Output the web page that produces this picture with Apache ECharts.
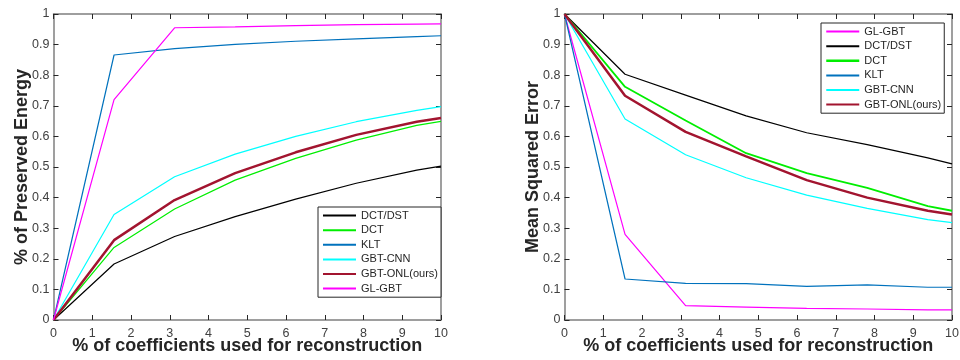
<!DOCTYPE html>
<html>
<head>
<meta charset="utf-8">
<script src="https://cdn.jsdelivr.net/npm/echarts@6/dist/echarts.min.js"></script>
<style>
  html, body { margin: 0; padding: 0; background: #fff; }
  #chart { width: 960px; height: 360px; }
</style>
</head>
<body>
<div id="chart"></div>
<script>
// Fraction of coefficients kept (%), shared by both panels
const coeffPct = [0, 1.5625, 3.125, 4.6875, 6.25, 7.8125, 9.375, 10];

// Left panel: fraction of preserved energy
const energyDctDst = [0, 0.183, 0.273, 0.338, 0.395, 0.447, 0.490, 0.503];
const energyDct    = [0, 0.237, 0.363, 0.457, 0.528, 0.588, 0.636, 0.649];
const energyKlt    = [0, 0.866, 0.887, 0.901, 0.911, 0.919, 0.926, 0.929];
const energyGbtCnn = [0, 0.345, 0.468, 0.542, 0.600, 0.648, 0.685, 0.697];
const energyGbtOnl = [0, 0.261, 0.392, 0.480, 0.548, 0.605, 0.648, 0.660];
const energyGlGbt  = [0, 0.720, 0.955, 0.958, 0.962, 0.965, 0.967, 0.968];

// Right panel: mean squared error
const mseGlGbt  = [1, 0.280, 0.047, 0.042, 0.038, 0.036, 0.033, 0.033];
const mseDctDst = [1, 0.803, 0.735, 0.667, 0.612, 0.573, 0.530, 0.510];
const mseDct    = [1, 0.762, 0.652, 0.545, 0.480, 0.432, 0.372, 0.357];
const mseKlt    = [1, 0.134, 0.120, 0.119, 0.110, 0.115, 0.107, 0.107];
const mseGbtCnn = [1, 0.657, 0.540, 0.465, 0.408, 0.365, 0.328, 0.318];
const mseGbtOnl = [1, 0.733, 0.615, 0.535, 0.457, 0.400, 0.357, 0.345];

const xTitle = '% of coefficients used for reconstruction';
const yTitleLeft = '% of Preserved Energy';
const yTitleRight = 'Mean Squared Error';

const C = {
  'DCT/DST': '#000000',
  'DCT': '#00ee00',
  'KLT': '#0072BD',
  'GBT-CNN': '#00ffff',
  'GBT-ONL(ours)': '#A2142F',
  'GL-GBT': '#ff00ff'
};

const pair = ys => coeffPct.map((x, i) => [x, ys[i]]);

function lineSeries(name, ys, panel, width) {
  return {
    name: name,
    type: 'line',
    xAxisIndex: panel * 2,
    yAxisIndex: panel * 2,
    data: pair(ys),
    symbol: 'none',
    animation: false,
    clip: true,
    color: C[name],
    lineStyle: { color: C[name], width: width }
  };
}

const axisGray = '#7f7f7f';
const labelGray = '#404040';
const titleStyle = { fontFamily: 'Liberation Sans, Arial, sans-serif', fontWeight: 'bold', fontSize: 18, color: '#262626' };
const tickFont = { fontFamily: 'Liberation Sans, Arial, sans-serif', fontSize: 12.5, color: labelGray };

function xAxes(gridIndex) {
  return [
    {
      type: 'value', gridIndex: gridIndex, position: 'bottom', min: 0, max: 10, interval: 1,
      name: xTitle, nameLocation: 'middle', nameGap: 17, nameMoveOverlap: false, nameTextStyle: titleStyle,
      axisLine: { show: true, onZero: false, lineStyle: { color: axisGray, width: 1.5 } },
      axisTick: { show: true, inside: true, length: 5, lineStyle: { color: '#262626' } },
      axisLabel: Object.assign({ margin: 7 }, tickFont),
      splitLine: { show: false }
    },
    {
      type: 'value', gridIndex: gridIndex, position: 'top', min: 0, max: 10, interval: 1,
      axisLine: { show: true, onZero: false, lineStyle: { color: axisGray, width: 1.5 } },
      axisTick: { show: true, inside: true, length: 5, lineStyle: { color: '#262626' } },
      axisLabel: { show: false },
      splitLine: { show: false }
    }
  ];
}

function yAxes(gridIndex, title, gap) {
  return [
    {
      type: 'value', gridIndex: gridIndex, position: 'left', min: 0, max: 1, interval: 0.1,
      name: title, nameLocation: 'middle', nameGap: gap, nameMoveOverlap: false, nameTextStyle: titleStyle,
      axisLine: { show: true, onZero: false, lineStyle: { color: axisGray, width: 1.5 } },
      axisTick: { show: true, inside: true, length: 5, lineStyle: { color: '#262626' } },
      axisLabel: Object.assign({ margin: 4 }, tickFont),
      splitLine: { show: false }
    },
    {
      type: 'value', gridIndex: gridIndex, position: 'right', min: 0, max: 1, interval: 0.1,
      axisLine: { show: true, onZero: false, lineStyle: { color: axisGray, width: 1.5 } },
      axisTick: { show: true, inside: true, length: 5, lineStyle: { color: '#262626' } },
      axisLabel: { show: false },
      splitLine: { show: false }
    }
  ];
}

const legendCommon = {
  orient: 'vertical',
  itemWidth: 33,
  itemHeight: 14,
  itemGap: 3.4,
  padding: [3, 3, 3, 4],
  borderColor: '#262626',
  borderWidth: 1,
  backgroundColor: '#ffffff',
  selectedMode: false,
  itemStyle: { opacity: 0 },
  textStyle: { fontFamily: 'Liberation Sans, Arial, sans-serif', fontSize: 11, color: '#262626' }
};

const option = {
  backgroundColor: '#ffffff',
  animation: false,
  grid: [
    { left: 53.5, right: 519, top: 14, bottom: 40, containLabel: false, outerBoundsMode: 'none' },
    { left: 564.5, right: 8, top: 14, bottom: 40, containLabel: false, outerBoundsMode: 'none' }
  ],
  xAxis: [...xAxes(0), ...xAxes(1)],
  yAxis: [...yAxes(0, yTitleLeft, 22), ...yAxes(1, yTitleRight, 22)],
  legend: [
    Object.assign({}, legendCommon, {
      left: 318, top: 207,
      data: ['DCT/DST', 'DCT', 'KLT', 'GBT-CNN', 'GBT-ONL(ours)', 'GL-GBT']
    }),
    Object.assign({}, legendCommon, {
      left: 821, top: 23,
      data: ['GL-GBT', 'DCT/DST', { name: 'DCT', lineStyle: { width: 2.5 } }, 'KLT', 'GBT-CNN', 'GBT-ONL(ours)']
    })
  ],
  series: [
    lineSeries('DCT/DST', energyDctDst, 0, 1.2),
    lineSeries('DCT', energyDct, 0, 1.2),
    lineSeries('KLT', energyKlt, 0, 1.2),
    lineSeries('GBT-CNN', energyGbtCnn, 0, 1.2),
    lineSeries('GBT-ONL(ours)', energyGbtOnl, 0, 2.5),
    lineSeries('GL-GBT', energyGlGbt, 0, 1.2),
    lineSeries('GL-GBT', mseGlGbt, 1, 1.2),
    lineSeries('DCT/DST', mseDctDst, 1, 1.2),
    lineSeries('DCT', mseDct, 1, 1.8),
    lineSeries('KLT', mseKlt, 1, 1.2),
    lineSeries('GBT-CNN', mseGbtCnn, 1, 1.2),
    lineSeries('GBT-ONL(ours)', mseGbtOnl, 1, 2.5)
  ]
};

const chart = echarts.init(document.getElementById('chart'), null, { renderer: 'canvas' });
chart.setOption(option);
</script>
</body>
</html>
